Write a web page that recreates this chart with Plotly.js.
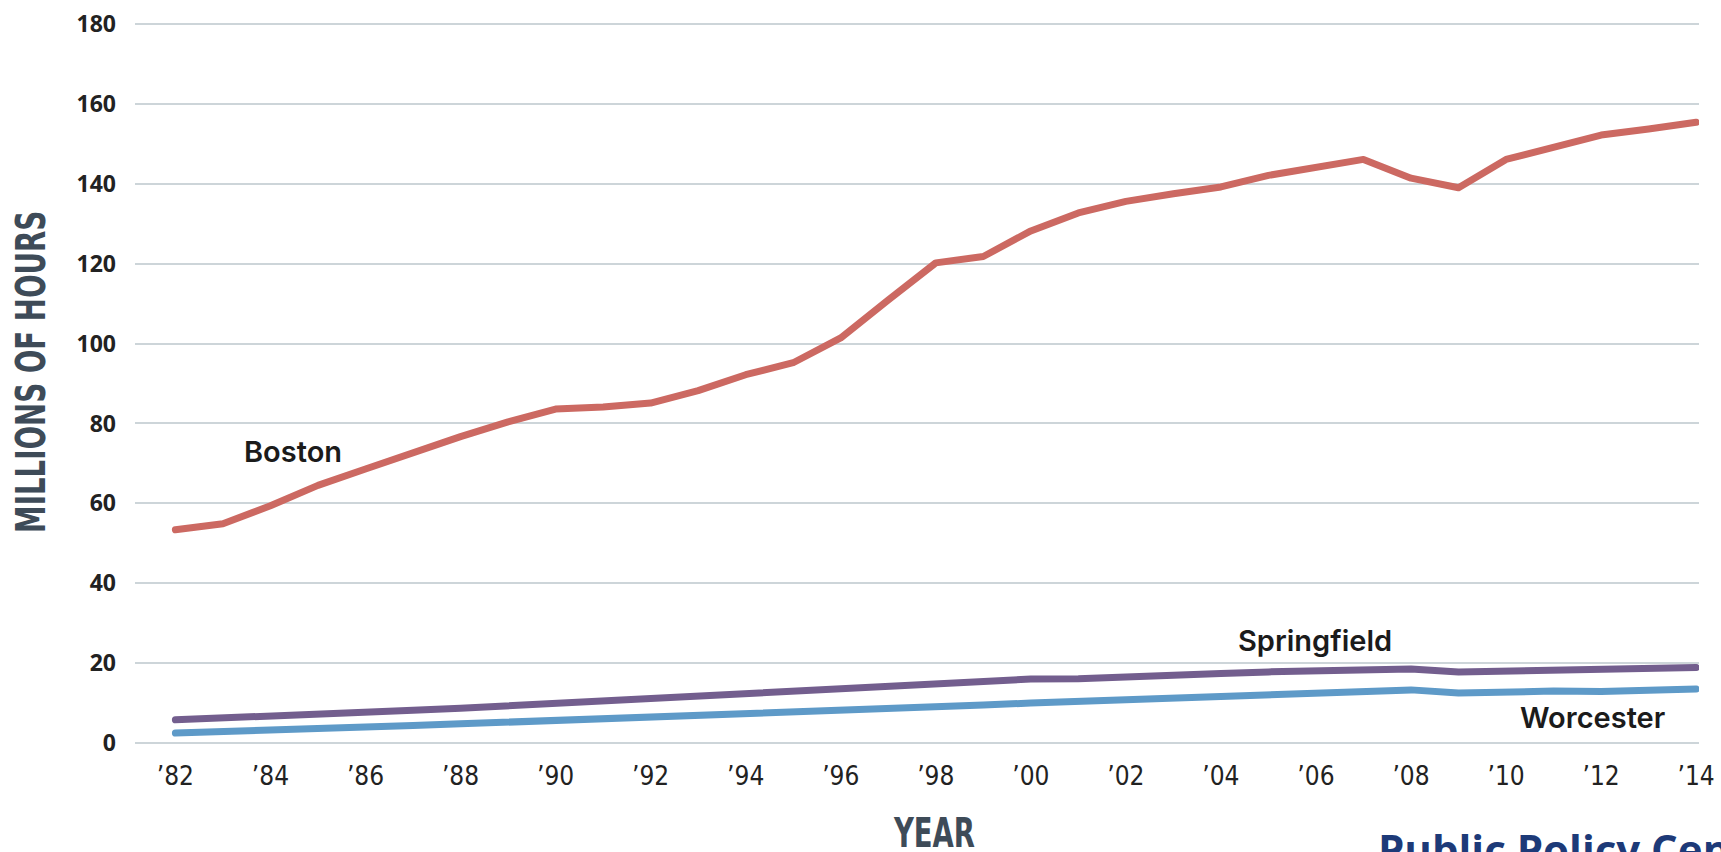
<!DOCTYPE html>
<html>
<head>
<meta charset="utf-8">
<script src="https://cdn.plot.ly/plotly-3.0.1.min.js"></script>
<style>
  html, body { margin: 0; padding: 0; background: #ffffff; }
  #chart { width: 1721px; height: 852px; }
</style>
</head>
<body>
<div id="chart"></div>
<script>
// Annual hours of traffic delay, millions of hours, 1982-2014
const years = [1982, 1983, 1984, 1985, 1986, 1987, 1988, 1989, 1990, 1991, 1992,
               1993, 1994, 1995, 1996, 1997, 1998, 1999, 2000, 2001, 2002, 2003,
               2004, 2005, 2006, 2007, 2008, 2009, 2010, 2011, 2012, 2013, 2014];

const boston = [53.4, 54.9, 59.4, 64.5, 68.6, 72.7, 76.7, 80.4, 83.6, 84.1, 85.1,
                88.2, 92.2, 95.2, 101.4, 110.9, 120.2, 121.8, 128.2, 132.7, 135.6, 137.5,
                139.2, 142.1, 144.3, 146.1, 141.4, 139.0, 146.1, 149.2, 152.2, 153.7, 155.4];

const springfield = [5.8, 6.2, 6.7, 7.2, 7.7, 8.2, 8.7, 9.3, 9.8, 10.4, 11.1,
                     11.7, 12.4, 12.9, 13.4, 14.0, 14.6, 15.5, 16.0, 16.1, 16.4, 17.0,
                     17.4, 17.8, 18.1, 18.4, 18.5, 17.8, 18.0, 18.2, 18.6, 18.8, 18.9];

const worcester = [2.5, 2.8, 3.2, 3.6, 4.0, 4.4, 4.8, 5.2, 5.5, 5.9, 6.3,
                   6.7, 7.1, 7.5, 8.0, 8.5, 9.0, 9.5, 10.0, 10.4, 10.8, 11.2,
                   11.6, 12.0, 12.6, 13.0, 13.3, 12.5, 12.9, 13.0, 12.9, 13.4, 13.5];

const yearTicks = [1982, 1984, 1986, 1988, 1990, 1992, 1994, 1996, 1998, 2000,
                   2002, 2004, 2006, 2008, 2010, 2012, 2014];
const yearTickText = ['\u201982', '\u201984', '\u201986', '\u201988', '\u201990', '\u201992',
                      '\u201994', '\u201996', '\u201998', '\u201900', '\u201902', '\u201904',
                      '\u201906', '\u201908', '\u201910', '\u201912', '\u201914'];
const hourTicks = [0, 20, 40, 60, 80, 100, 120, 140, 160, 180];

const seriesColors = { boston: '#cc6962', springfield: '#735e8e', worcester: '#5e9ac8' };

function lineTrace(y, color) {
  return {
    x: years, y: y, type: 'scatter', mode: 'lines',
    line: { color: color, width: 7 },
    hoverinfo: 'skip'
  };
}

const traces = [
  lineTrace(worcester, seriesColors.worcester),
  lineTrace(springfield, seriesColors.springfield),
  lineTrace(boston, seriesColors.boston)
];

const labelFont = { family: 'Inter, "Noto Sans", sans-serif', size: 29, color: '#1b1b1b', weight: 600 };
const condensedFont = { family: '"DejaVu Sans Condensed", "DejaVu Sans", sans-serif',
                        size: 41, color: '#3e4b58', weight: 700 };

// narrow display widths for the condensed axis captions
const captionWidths = { 'MILLIONS OF HOURS': 322, 'YEAR': 81 };

const layout = {
  width: 1721, height: 852,
  margin: { l: 135, r: 22, t: 20, b: 105 },
  paper_bgcolor: '#ffffff', plot_bgcolor: '#ffffff',
  showlegend: false, hovermode: false,
  xaxis: {
    range: [1981.15, 2014.06],
    tickmode: 'array', tickvals: yearTicks, ticktext: yearTickText,
    showgrid: false, zeroline: false, showline: false, ticks: '',
    ticklabelstandoff: 11,
    tickfont: { family: '"DejaVu Sans Condensed", "DejaVu Sans", sans-serif', size: 26, color: '#222222', weight: 500 },
    fixedrange: true
  },
  yaxis: {
    range: [-1, 181],
    tickmode: 'array', tickvals: hourTicks,
    showgrid: true, gridcolor: '#cdd5d9', gridwidth: 2,
    zeroline: false, showline: false, ticks: '',
    ticklabelstandoff: 18,
    tickfont: { family: '"Open Sans", sans-serif', size: 23, color: '#222222', weight: 700 },
    fixedrange: true
  },
  annotations: [
    { text: 'Boston', xref: 'x', yref: 'y', x: 1984.47, y: 72.9,
      xanchor: 'center', yanchor: 'middle', showarrow: false, font: labelFont },
    { text: 'Springfield', xref: 'x', yref: 'y', x: 2005.98, y: 25.6,
      xanchor: 'center', yanchor: 'middle', showarrow: false, font: labelFont },
    { text: 'Worcester', xref: 'x', yref: 'y', x: 2011.81, y: 6.4,
      xanchor: 'center', yanchor: 'middle', showarrow: false, font: labelFont },
    { text: 'MILLIONS OF HOURS', xref: 'paper', yref: 'paper', x: -0.0668, y: 0.5158,
      xanchor: 'center', yanchor: 'middle', textangle: -90, showarrow: false, font: condensedFont },
    { text: 'YEAR', xref: 'paper', yref: 'paper', x: 0.5109, y: -0.1183,
      xanchor: 'center', yanchor: 'middle', showarrow: false, font: condensedFont },
    { text: 'Public Policy Center', xref: 'paper', yref: 'paper', x: 0.7935, y: -0.098,
      xanchor: 'left', yanchor: 'top', showarrow: false,
      font: { family: '"Open Sans", "Noto Sans", sans-serif', size: 42, color: '#1d3a78', weight: 700 } }
  ]
};

Plotly.newPlot('chart', traces, layout, { displayModeBar: false, staticPlot: true }).then(function (gd) {
  // rounded ends on the series lines
  gd.querySelectorAll('.scatterlayer .js-line').forEach(function (p) {
    p.style.strokeLinecap = 'round';
    p.style.strokeLinejoin = 'round';
  });
  // squeeze the axis captions into a condensed face
  gd.querySelectorAll('text.annotation-text').forEach(function (t) {
    const w = captionWidths[t.textContent];
    if (w) {
      t.setAttribute('textLength', w);
      t.setAttribute('lengthAdjust', 'spacingAndGlyphs');
    }
  });
});
</script>
</body>
</html>
